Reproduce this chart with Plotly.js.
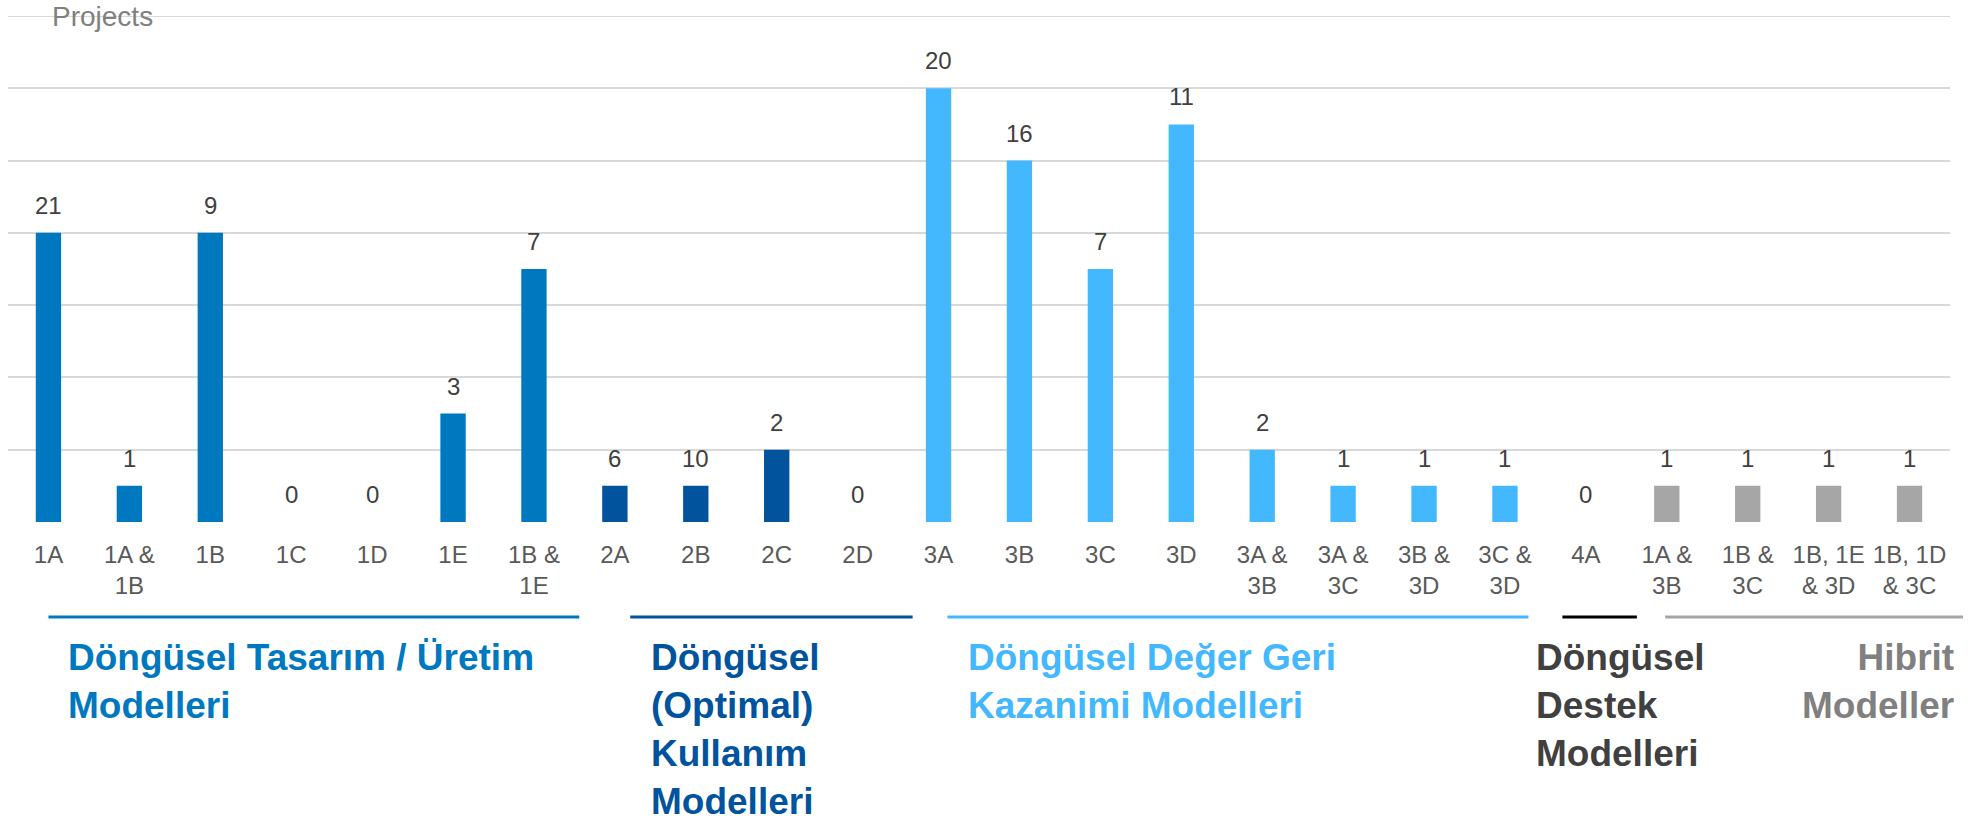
<!DOCTYPE html>
<html>
<head>
<meta charset="utf-8">
<script src="https://cdn.plot.ly/plotly-3.0.1.min.js"></script>
<style>
  html, body { margin: 0; padding: 0; background: #ffffff; }
  #chart { width: 1972px; height: 827px; }
</style>
</head>
<body>
<div id="chart"></div>
<script>
// ---- Data ----
const categories = [
  "1A", "1A &<br>1B", "1B", "1C", "1D", "1E", "1B &<br>1E",
  "2A", "2B", "2C", "2D",
  "3A", "3B", "3C", "3D", "3A &<br>3B", "3A &<br>3C", "3B &<br>3D", "3C &<br>3D",
  "4A",
  "1A &<br>3B", "1B &<br>3C", "1B, 1E<br>& 3D", "1B, 1D<br>& 3C"
];
// Project counts shown as data labels
const projectCounts = [21, 1, 9, 0, 0, 3, 7, 6, 10, 2, 0, 20, 16, 7, 11, 2, 1, 1, 1, 0, 1, 1, 1, 1];
// Bar heights as drawn (in gridline units)
const barHeights = [4, 0.5, 4, 0, 0, 1.5, 3.5, 0.5, 0.5, 1, 0, 6, 5, 3.5, 5.5, 1, 0.5, 0.5, 0.5, 0, 0.5, 0.5, 0.5, 0.5];
// Group membership of each category
const groupOf = [0, 0, 0, 0, 0, 0, 0, 1, 1, 1, 1, 2, 2, 2, 2, 2, 2, 2, 2, 3, 4, 4, 4, 4];
const groupNames = [
  "Döngüsel Tasarım / Üretim<br>Modelleri",
  "Döngüsel<br>(Optimal)<br>Kullanım<br>Modelleri",
  "Döngüsel Değer Geri<br>Kazanimi Modelleri",
  "Döngüsel<br>Destek<br>Modelleri",
  "Hibrit<br>Modeller"
];
const yAxisLabel = "Projects";
const yMaxGrid = 7;

// ---- Styles ----
const barColors = ["#0078C0", "#00539C", "#44B8FF", "#000000", "#A6A6A6"];
const textColors = ["#0078C0", "#00539C", "#44B8FF", "#404040", "#808080"];
// group bracket extents, in category-index units
const groupLineExtent = [[0, 6.56], [7.19, 10.68], [11.11, 18.29], [18.71, 19.63], [19.98, 23.66]];
// group label anchor (category-index units) and alignment
const groupLabelPos = [[0.22, "left"], [7.42, "left"], [11.34, "left"], [18.36, "left"], [23.58, "right"]];

const nCat = categories.length;
const xMin = -0.5, xMax = nCat - 0.5;
const toPaperX = v => (v - xMin) / (xMax - xMin);

const FONT = "'Liberation Sans', Arial, sans-serif";

const trace = {
  type: "bar",
  x: categories,
  y: barHeights,
  marker: {
    color: groupOf.map(g => barColors[g]),
    line: { width: 0 }
  },
  hoverinfo: "skip"
};

const annotations = [];
categories.forEach((c, i) => {
  annotations.push({
    x: c, y: barHeights[i], xref: "x", yref: "y",
    text: String(projectCounts[i]),
    showarrow: false, yanchor: "bottom", yshift: 12,
    font: { family: FONT, size: 24, color: "#404040" }
  });
});

annotations.push({
  xref: "paper", yref: "paper", x: toPaperX(0.02), y: 1,
  xanchor: "left", yanchor: "middle", yshift: 0,
  text: yAxisLabel, showarrow: false,
  font: { family: FONT, size: 28, color: "#808080" }
});

const GROUP_LINE_Y = -0.1877;
const GROUP_LABEL_Y = -0.2233;

const shapes = [
  // top gridline (at the edge of the axis range)
  {
    type: "line", xref: "paper", yref: "y",
    x0: 0, x1: 1, y0: yMaxGrid, y1: yMaxGrid,
    line: { color: "#D9D9D9", width: 2 }, layer: "below"
  }
];
groupNames.forEach((name, g) => {
  shapes.push({
    type: "line", xref: "paper", yref: "paper",
    x0: toPaperX(groupLineExtent[g][0]), x1: toPaperX(groupLineExtent[g][1]),
    y0: GROUP_LINE_Y, y1: GROUP_LINE_Y,
    line: { color: barColors[g], width: 3 }
  });
  annotations.push({
    xref: "paper", yref: "paper",
    x: toPaperX(groupLabelPos[g][0]), y: GROUP_LABEL_Y,
    xanchor: groupLabelPos[g][1], yanchor: "top", align: groupLabelPos[g][1],
    text: "<b>" + name + "</b>", showarrow: false,
    font: { family: FONT, size: 37, color: textColors[g] }
  });
});

const layout = {
  width: 1972, height: 827,
  margin: { l: 8, r: 22, t: 16, b: 305 },
  paper_bgcolor: "#ffffff", plot_bgcolor: "#ffffff",
  showlegend: false,
  bargap: 0.687,
  font: { family: FONT },
  xaxis: {
    type: "category",
    range: [xMin, xMax],
    showgrid: false, zeroline: false, showline: false,
    ticks: "",
    ticklabelstandoff: 16,
    tickfont: { family: FONT, size: 24, color: "#595959" },
    tickangle: 0,
    automargin: false,
    fixedrange: true
  },
  yaxis: {
    range: [0, yMaxGrid],
    dtick: 1, tick0: 0,
    showgrid: true, gridcolor: "#D9D9D9", gridwidth: 2,
    zeroline: false, showline: false,
    showticklabels: false, ticks: "",
    automargin: false,
    fixedrange: true
  },
  shapes: shapes,
  annotations: annotations
};

Plotly.newPlot("chart", [trace], layout, { displayModeBar: false, staticPlot: true });
</script>
</body>
</html>
